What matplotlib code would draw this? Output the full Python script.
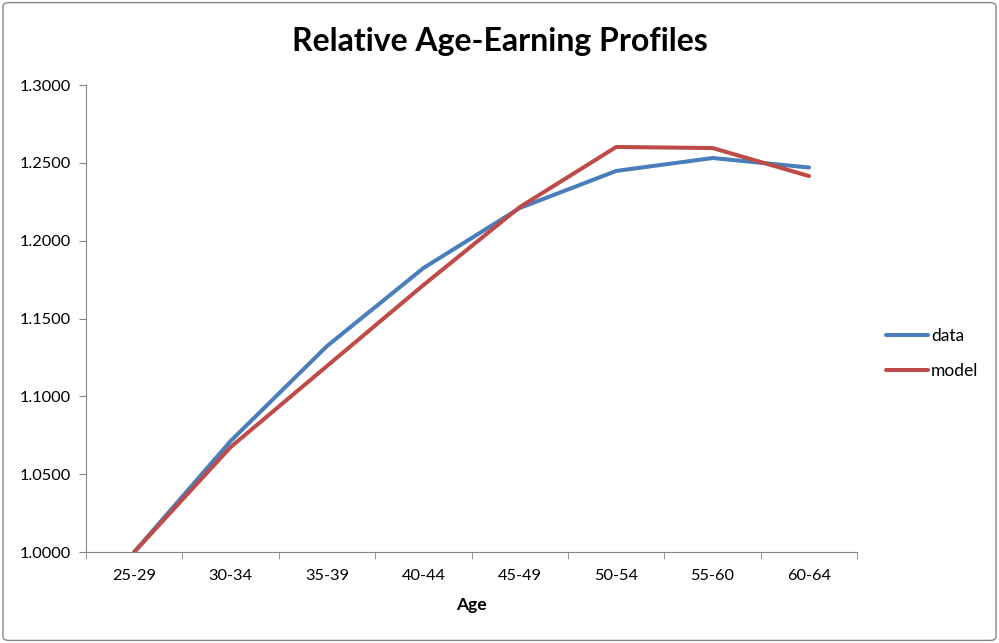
import numpy as np
import matplotlib.pyplot as plt
from matplotlib.patches import FancyBboxPatch

# %% Data:
ages = ['25-29', '30-34', '35-39', '40-44', '45-49', '50-54', '55-60', '60-64']
data = [1.0000, 1.0713, 1.1323, 1.1824, 1.2210, 1.2448, 1.2531, 1.2470]
model = [1.0000, 1.0674, 1.1195, 1.1715, 1.2216, 1.2602, 1.2595, 1.2415]

plt.rcParams['font.family'] = ['Lato', 'DejaVu Sans']

fig = plt.figure(figsize=(9.99, 6.43), dpi=100)
ax = fig.add_axes([0.0861, 0.1415, 0.7720, 0.7263])

x = np.arange(len(ages))
ax.plot(x, data, color='#4A7EBB', lw=2.9, label='data', solid_capstyle='round')
ax.plot(x, model, color='#BE4B48', lw=2.9, label='model', solid_capstyle='round')

# %% Axes styling (Excel look):
ax.set_xlim(-0.5, len(ages) - 0.5)
ax.set_ylim(1.0, 1.3)
ax.set_yticks(np.arange(1.0, 1.3001, 0.05))
ax.yaxis.set_major_formatter(plt.FuncFormatter(lambda v, p: f'{v:.4f}'))
ax.set_xticks(x)
ax.set_xticklabels(ages)
ax.set_xticks(np.arange(-0.5, len(ages)), minor=True)
ax.tick_params(axis='x', which='major', length=0, pad=12, labelsize=11.8)
ax.tick_params(axis='x', which='minor', length=5, color='#868686')
ax.tick_params(axis='y', length=5, color='#868686', labelsize=11.8, pad=6)
for s in ['top', 'right']:
    ax.spines[s].set_visible(False)
for s in ['left', 'bottom']:
    ax.spines[s].set_color('#868686')
ax.set_xlabel('Age', fontweight='bold', fontsize=12.5, labelpad=10)

fig.text(0.5, 0.935, 'Relative Age-Earning Profiles', ha='center', va='center',
         fontsize=23, fontweight='bold')

ax.legend(loc='center left', bbox_to_anchor=(1.017, 0.425), frameon=False,
          fontsize=12.5, handlelength=2.4, handletextpad=0.2, labelspacing=1.1)

# Outer chart border
border = FancyBboxPatch((0.003, 0.004), 0.994, 0.992, boxstyle='round,pad=0,rounding_size=0.006',
                        transform=fig.transFigure, fill=False, ec='#868686', lw=1.0)
fig.patches.append(border)

fig.savefig('out.png', dpi=100)
